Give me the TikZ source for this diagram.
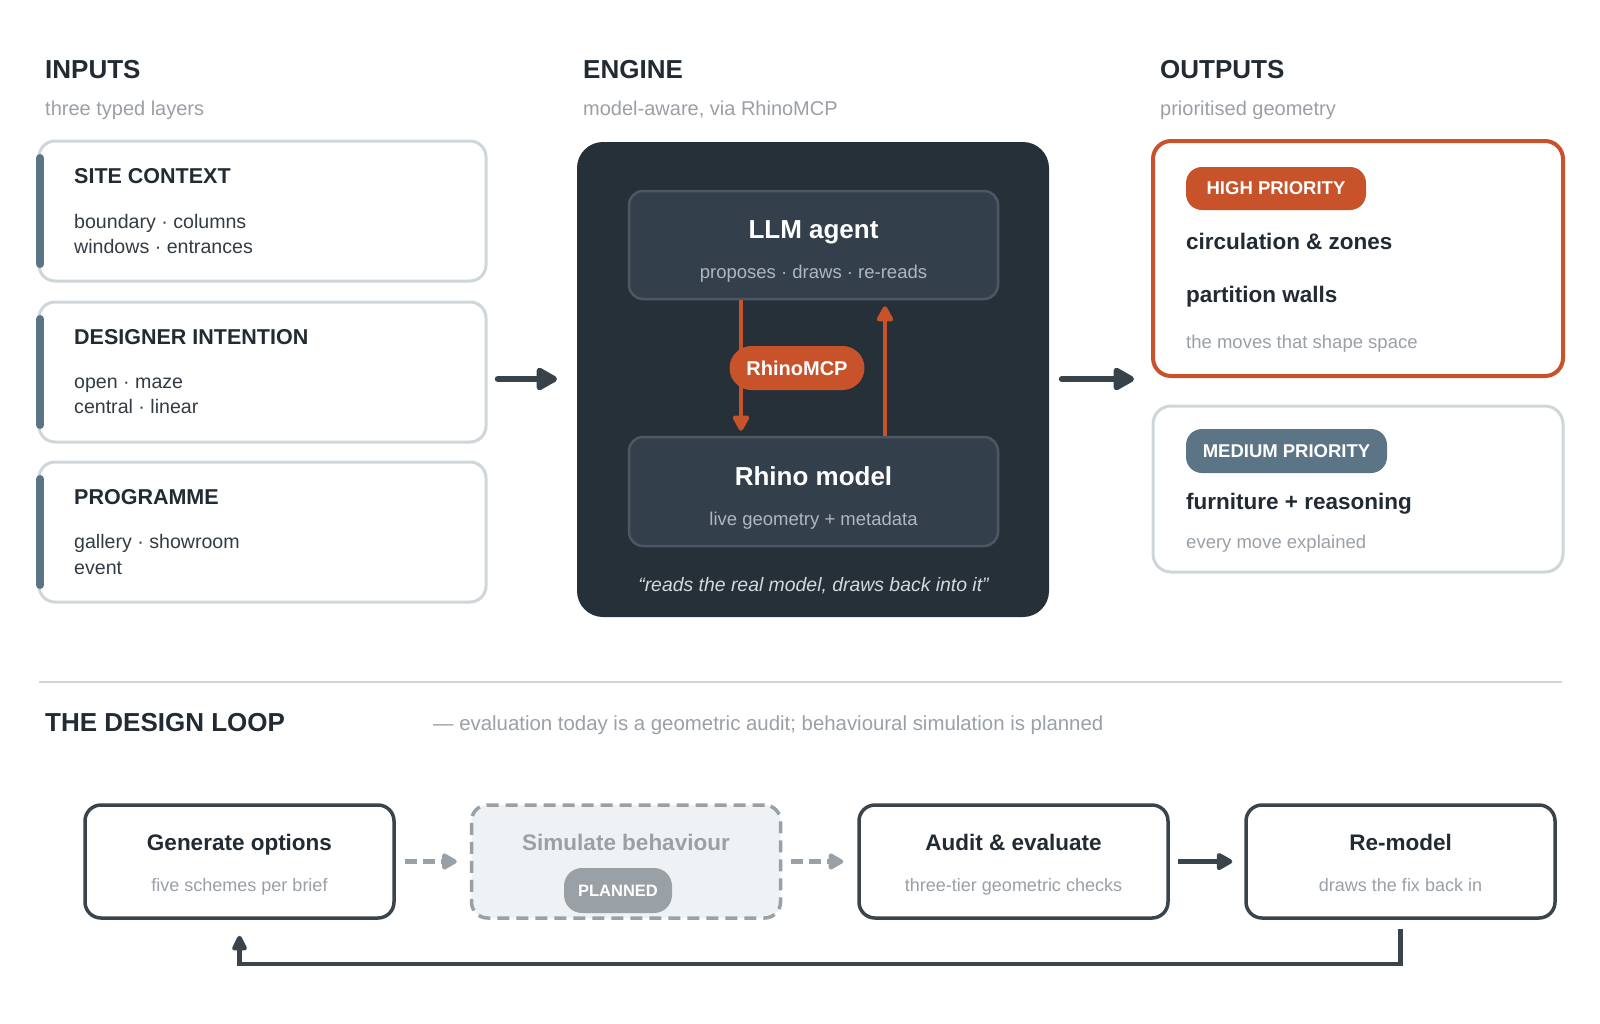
\documentclass[tikz,border=0pt]{standalone}
\usepackage{fontspec}
\setmainfont{Liberation Sans}
\usetikzlibrary{arrows.meta,calc}
\definecolor{ink}{HTML}{222B33}
\definecolor{bodyc}{HTML}{333C44}
\definecolor{muted}{HTML}{9AA0A6}
\definecolor{lightline}{HTML}{CFD6DA}
\definecolor{slate}{HTML}{5B7586}
\definecolor{engbg}{HTML}{263039}
\definecolor{engin}{HTML}{333F4A}
\definecolor{engline}{HTML}{4B5864}
\definecolor{rust}{HTML}{C8522A}
\definecolor{loopline}{HTML}{3A444C}
\definecolor{arrowdark}{HTML}{37424A}
\definecolor{engsub}{HTML}{AEB7BF}
\definecolor{quotec}{HTML}{D3D9DE}
\definecolor{planbg}{HTML}{EFF2F4}
\definecolor{plangray}{HTML}{9AA1A6}
\definecolor{divider}{HTML}{CFD4D7}
\newcommand\myfs[1]{\fontsize{#1}{#1}\selectfont}
\begin{document}
\begin{tikzpicture}[x=1pt,y=-1pt,
  txt/.style={inner sep=0pt, anchor=base west},
  ctxt/.style={inner sep=0pt, anchor=base},
  headtxt/.style={txt, font=\myfs{26}\bfseries, text=ink},
  subtxt/.style={txt, font=\myfs{20}, text=muted},
  intitle/.style={txt, font=\myfs{21.5}\bfseries, text=ink},
  inbody/.style={txt, font=\myfs{19.6}, text=bodyc},
  inbox/.style={draw=lightline, line width=3pt, rounded corners=16pt, fill=white, minimum width=447pt, minimum height=140pt, inner sep=0pt},
  accent/.style={draw=slate, line width=8pt, line cap=round},
  engbox/.style={fill=engbg, rounded corners=26pt, minimum width=472pt, minimum height=475pt, inner sep=0pt},
  innerbox/.style={fill=engin, draw=engline, line width=2.5pt, rounded corners=14pt, minimum width=369pt, minimum height=108pt, inner sep=0pt},
  engtitle/.style={ctxt, font=\myfs{26}\bfseries, text=white},
  engsubt/.style={ctxt, font=\myfs{18.5}, text=engsub},
  pill/.style={rounded corners=#1, inner sep=0pt, text=white},
  outbox/.style={rounded corners=18pt, fill=white, minimum width=410pt, inner sep=0pt},
  outbold/.style={txt, font=\myfs{22.5}\bfseries, text=ink},
  outmuted/.style={txt, font=\myfs{18.5}, text=muted},
  loopbox/.style={draw=loopline, line width=3.5pt, rounded corners=16pt, fill=white, minimum width=309pt, minimum height=113pt, inner sep=0pt},
  looptitle/.style={ctxt, font=\myfs{22.5}\bfseries, text=ink},
  loopsub/.style={ctxt, font=\myfs{18}, text=muted},
  bigarrow/.style={draw=arrowdark, line width=6.5pt, line cap=round, -{Triangle[length=24pt,width=25pt,round]}},
  rustarrow/.style={draw=rust, line width=4.5pt, -{Triangle[length=18pt,width=18pt,round]}},
  dasharrow/.style={draw=plangray, line width=4.5pt, dash pattern=on 12pt off 6pt, -{Triangle[length=17pt,width=18pt,round]}},
  solidarrow/.style={draw=loopline, line width=5pt, -{Triangle[length=18pt,width=19pt,round]}},
  backarrow/.style={draw=loopline, line width=4.5pt, -{Triangle[length=18pt,width=16pt,round]}}
]
\useasboundingbox (0,0) rectangle (1600,1023);
\fill[white] (0,0) rectangle (1600,1023);

% ---------- INPUTS ----------
\node[headtxt] (inh) at (45,78) {INPUTS};
\node[subtxt] (ins) at (45,115) {three typed layers};

\node[inbox] (in1) at (262.5,211) {};
\node[inbox] (in2) at (262.5,372) {};
\node[inbox] (in3) at (262.5,532) {};
\draw[accent] (40,158) -- (40,264);
\draw[accent] (40,319) -- (40,425);
\draw[accent] (40,479) -- (40,585);

\node[intitle] (in1t) at (74,183) {SITE CONTEXT};
\node[inbody] (in1a) at (74,228) {boundary · columns};
\node[inbody] (in1b) at (74,253) {windows · entrances};

\node[intitle] (in2t) at (74,344) {DESIGNER INTENTION};
\node[inbody] (in2a) at (74,388) {open · maze};
\node[inbody] (in2b) at (74,413) {central · linear};

\node[intitle] (in3t) at (74,504) {PROGRAMME};
\node[inbody] (in3a) at (74,548) {gallery · showroom};
\node[inbody] (in3b) at (74,574) {event};

% ---------- ENGINE ----------
\node[headtxt] (engh) at (583,78) {ENGINE};
\node[subtxt] (engs) at (583,115) {model-aware, via RhinoMCP};

\node[engbox] (engine) at (813,379.5) {};
\node[innerbox] (llm) at (813.5,245) {};
\node[innerbox, minimum height=109pt] (rhino) at (813.5,491.5) {};

\node[engtitle] (llmt) at (813.5,238.5) {LLM agent};
\node[engsubt] (llms) at (813.5,278) {proposes · draws · re-reads};
\node[engtitle] (rhinot) at (813.5,485) {Rhino model};
\node[engsubt] (rhinos) at (813.5,525) {live geometry + metadata};
\node[ctxt, font=\myfs{19.4}\itshape, text=quotec] (quote) at (813.5,591) {“reads the real model, draws back into it”};

\draw[rustarrow] ($(llm.south)+(-72.5,0)$) -- ($(rhino.north)+(-72.5,-5)$);
\draw[rustarrow] ($(rhino.north)+(71.5,0)$) -- ($(llm.south)+(71.5,6)$);
\node[pill=22pt, fill=rust, minimum width=135pt, minimum height=44pt, font=\myfs{20}\bfseries] (mcp) at (797,368) {RhinoMCP};

% ---------- OUTPUTS ----------
\node[headtxt] (outh) at (1160,78) {OUTPUTS};
\node[subtxt] (outs) at (1160,115) {prioritised geometry};

\node[outbox, draw=rust, line width=4pt, minimum height=235pt] (high) at (1358,258.5) {};
\node[outbox, draw=lightline, line width=3pt, minimum height=166pt] (med) at (1358,489) {};

\node[pill=16pt, fill=rust, minimum width=180pt, minimum height=43pt, font=\myfs{18.5}\bfseries] (highp) at (1276,188.5) {HIGH PRIORITY};
\node[outbold] (h1) at (1186,249) {circulation \& zones};
\node[outbold] (h2) at (1186,302) {partition walls};
\node[outmuted] (h3) at (1186,348) {the moves that shape space};

\node[pill=16pt, fill=slate, minimum width=201pt, minimum height=44pt, font=\myfs{18.5}\bfseries] (medp) at (1286.5,451) {MEDIUM PRIORITY};
\node[outbold] (m1) at (1186,509) {furniture + reasoning};
\node[outmuted] (m2) at (1186,548) {every move explained};

% main arrows
\coordinate (a1s) at (498,379);
\coordinate (a1e) at (557,379);
\coordinate (a2s) at (1062,379);
\coordinate (a2e) at (1134,379);
\draw[bigarrow] (a1s) -- (a1e);
\draw[bigarrow] (a2s) -- (a2e);

% ---------- DESIGN LOOP ----------
\draw[draw=divider, line width=2.5pt] (39,682) -- (1562,682);
\node[headtxt] (looph) at (45,731) {THE DESIGN LOOP};
\node[txt, font=\myfs{20.4}, text=muted] (loops) at (433,730) {— evaluation today is a geometric audit; behavioural simulation is planned};

\node[loopbox] (gen) at (239.5,861.5) {};
\node[loopbox, draw=plangray, fill=planbg, dash pattern=on 12pt off 7pt] (sim) at (626,861.5) {};
\node[loopbox] (audit) at (1013.5,861.5) {};
\node[loopbox] (remodel) at (1400.5,861.5) {};

\node[looptitle] (gent) at (239.5,850) {Generate options};
\node[loopsub] (gens) at (239.5,891) {five schemes per brief};
\node[looptitle, text=plangray] (simt) at (626,850) {Simulate behaviour};
\node[pill=18pt, fill=plangray, minimum width=108pt, minimum height=45pt, font=\myfs{16.5}\bfseries] (planned) at (618,890.5) {PLANNED};
\node[looptitle] (auditt) at (1013.5,850) {Audit \& evaluate};
\node[loopsub] (audits) at (1013.5,891) {three-tier geometric checks};
\node[looptitle] (remodelt) at (1400.5,850) {Re-model};
\node[loopsub] (remodels) at (1400.5,891) {draws the fix back in};

\draw[dasharrow] ($(gen.east)+(9,0)$) -- ($(sim.west)+(-13,0)$);
\draw[dasharrow] ($(sim.east)+(9,0)$) -- ($(audit.west)+(-14,0)$);
\draw[solidarrow] ($(audit.east)+(8,0)$) -- ($(remodel.west)+(-12,0)$);
\draw[backarrow] ($(remodel.south)+(0,9)$) -- ($(remodel.south)+(0,44)$) -| ($(gen.south)+(0,16)$);
\end{tikzpicture}
\end{document}
